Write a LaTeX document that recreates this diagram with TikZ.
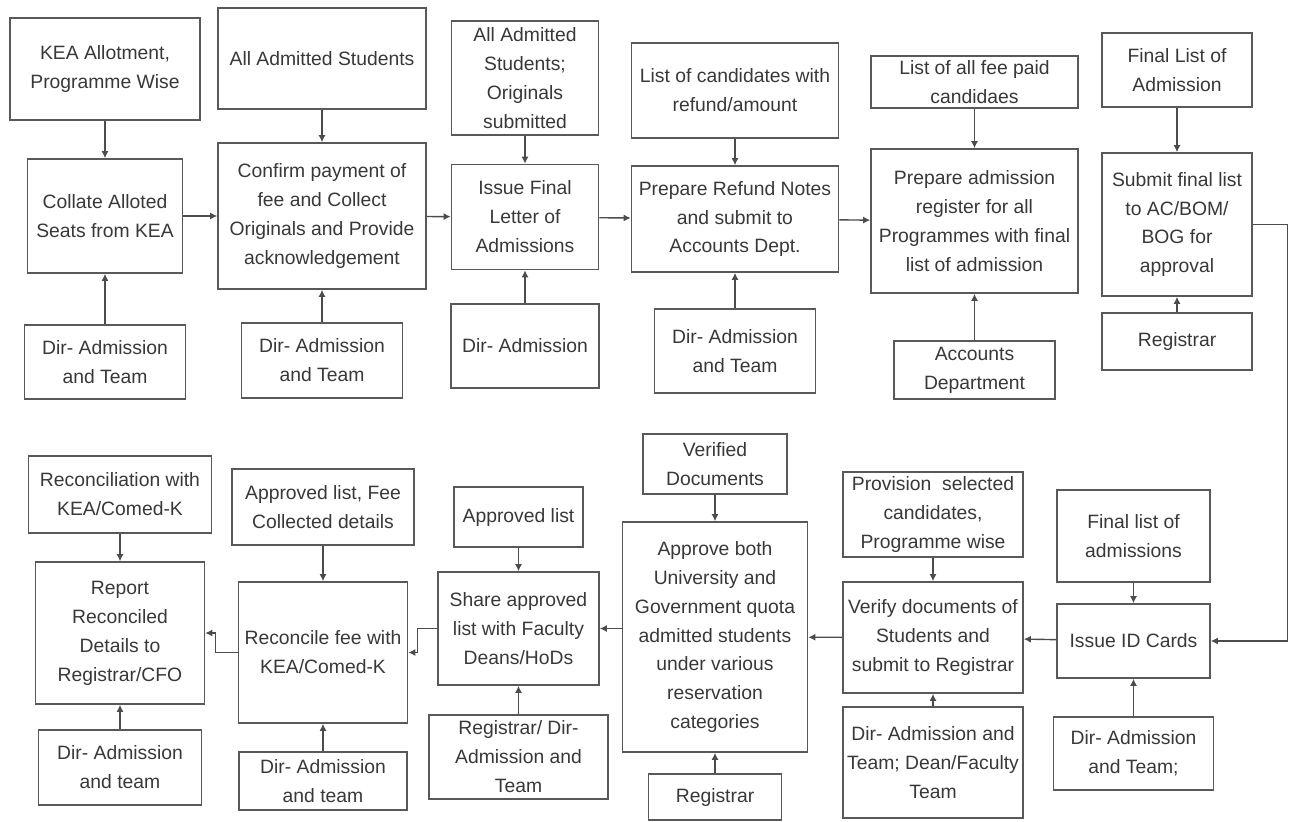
\documentclass[tikz,border=0pt]{standalone}
\usepackage{fontspec}
\setmainfont{Liberation Sans}
\usetikzlibrary{arrows.meta}

\begin{document}
\begin{tikzpicture}[x=0.02cm, y=-0.02cm,
    box/.style={draw=black!65, line width=0.9pt, align=center, inner sep=1pt,
        text=black!78, font=\fontsize{11}{16.5}\selectfont},
    arr/.style={draw=black!70, line width=0.8pt, -{Latex[length=4pt,width=4pt]}}]
    \useasboundingbox (0,0) rectangle (1289,822);

    % Collate seats
    \node[box, minimum width=3.8cm, minimum height=2.04cm] (kea) at (105,69) {KEA Allotment,\\Programme Wise};
    \node[box, minimum width=3.1cm, minimum height=2.28cm] (collate) at (105,216) {Collate Alloted\\Seats from KEA};
    \node[box, minimum width=3.22cm, minimum height=1.48cm] (dirA) at (105,362) {Dir- Admission\\and Team};

    % Confirm payment
    \node[box, minimum width=4.16cm, minimum height=2.02cm] (admAll) at (322,58.5) {All Admitted Students};
    \node[box, minimum width=4.16cm, minimum height=2.92cm] (confirm) at (322,216) {Confirm payment of\\fee and Collect\\Originals and Provide\\acknowledgement};
    \node[box, minimum width=3.22cm, minimum height=1.5cm] (dirB) at (322,360.5) {Dir- Admission\\and Team};

    % Final letter
    \node[box, minimum width=2.94cm, minimum height=2.28cm] (admOrig) at (525,78) {All Admitted\\Students;\\Originals\\submitted};
    \node[box, minimum width=2.94cm, minimum height=2.1cm] (issue) at (525,217) {Issue Final\\Letter of\\Admissions};
    \node[box, minimum width=2.96cm, minimum height=1.68cm] (dirC) at (525,346) {Dir- Admission};

    % Refund notes
    \node[box, minimum width=4.14cm, minimum height=1.9cm] (refList) at (735,90.5) {List of candidates with\\refund/amount};
    \node[box, minimum width=4.14cm, minimum height=2.12cm] (refund) at (735,219) {Prepare Refund Notes\\and submit to\\Accounts Dept.};
    \node[box, minimum width=3.22cm, minimum height=1.68cm] (dirD) at (735,351) {Dir- Admission\\and Team};

    % Admission register
    \node[box, minimum width=4.14cm, minimum height=1.04cm] (feeList) at (974.5,82) {List of all fee paid\\candidaes};
    \node[box, minimum width=4.14cm, minimum height=2.88cm] (register) at (974.5,221) {Prepare admission\\register for all\\Programmes with final\\list of admission};
    \node[box, minimum width=3.22cm, minimum height=1.16cm] (accounts) at (974.5,370) {Accounts\\Department};

    % Approval
    \node[box, minimum width=3cm, minimum height=1.48cm] (finList) at (1177,70) {Final List of\\Admission};
    \node[box, minimum width=3cm, minimum height=2.86cm] (submit) at (1177,224.5) {Submit final list\\to AC/BOM/\\BOG for\\approval};
    \node[box, minimum width=3cm, minimum height=1.14cm] (regA) at (1177,341.5) {Registrar};

    % ID cards
    \node[box, minimum width=3.06cm, minimum height=1.84cm] (finAdm) at (1133.5,536) {Final list of\\admissions};
    \node[box, minimum width=3.06cm, minimum height=1.48cm] (idCards) at (1133.5,641) {Issue ID Cards};
    \node[box, minimum width=3.2cm, minimum height=1.46cm] (dirF) at (1133.5,753.5) {Dir- Admission\\and Team;};

    % Verify documents
    \node[box, minimum width=3.6cm, minimum height=1.7cm] (prov) at (933,514.5) {Provision\ \ selected\\candidates,\\Programme wise};
    \node[box, minimum width=3.6cm, minimum height=2.22cm] (verify) at (933,637.5) {Verify documents of\\Students and\\submit to Registrar};
    \node[box, minimum width=3.6cm, minimum height=2.22cm] (dirE) at (933,762.5) {Dir- Admission and\\Team; Dean/Faculty\\Team};

    % Approve quota
    \node[box, minimum width=2.88cm, minimum height=1.2cm] (verified) at (715,464) {Verified\\Documents};
    \node[box, minimum width=3.7cm, minimum height=4.6cm] (approve) at (715,637) {Approve both\\University and\\Government quota\\admitted students\\under various\\reservation\\categories};
    \node[box, minimum width=2.66cm, minimum height=0.92cm] (regB) at (715,797) {Registrar};

    % Share list
    \node[box, minimum width=2.58cm, minimum height=1.2cm] (apprList) at (518.5,517) {Approved list};
    \node[box, minimum width=3.22cm, minimum height=2.26cm] (share) at (518.5,628.5) {Share approved\\list with Faculty\\Deans/HoDs};
    \node[box, minimum width=3.58cm, minimum height=1.68cm] (dirG) at (518.5,757) {Registrar/ Dir-\\Admission and\\Team};

    % Reconcile fee
    \node[box, minimum width=3.64cm, minimum height=1.52cm] (recList) at (323,507) {Approved list, Fee\\Collected details};
    \node[box, minimum width=3.38cm, minimum height=2.82cm] (reconcile) at (323,652.5) {Reconcile fee with\\KEA/Comed-K};
    \node[box, minimum width=3.36cm, minimum height=1.16cm] (dirH) at (323,781) {Dir- Admission\\and team};

    % Report
    \node[box, minimum width=3.66cm, minimum height=1.54cm] (kcomed) at (120,494.5) {Reconciliation with\\KEA/Comed-K};
    \node[box, minimum width=3.38cm, minimum height=2.84cm] (report) at (120,633) {Report\\Reconciled\\Details to\\Registrar/CFO};
    \node[box, minimum width=3.26cm, minimum height=1.5cm] (dirI) at (120,767.5) {Dir- Admission\\and team};

    % Inputs and owners
    \foreach \a/\b in {kea/collate, dirA/collate, admAll/confirm, dirB/confirm,
        admOrig/issue, dirC/issue, refList/refund, dirD/refund,
        feeList/register, accounts/register, finList/submit, regA/submit,
        finAdm/idCards, dirF/idCards, prov/verify, dirE/verify,
        verified/approve, regB/approve, apprList/share, dirG/share,
        recList/reconcile, dirH/reconcile, kcomed/report, dirI/report}
        \draw[arr] (\a) -- (\b);

    % Workflow
    \draw[arr] (collate) -- (confirm);
    \draw[arr] (confirm) -- (issue);
    \draw[arr] (issue) -- (refund);
    \draw[arr] (refund) -- (register);
    \draw[arr] (submit.east) -- ++(35,0) |- (idCards.east);
    \draw[arr] (idCards) -- (verify);
    \draw[arr] (verify) -- (approve);
    \draw[arr] (approve.west |- share.east) -- (share.east);
    \draw[arr] (share.west) -- ++(-20,0) |- (reconcile.east);
    \draw[arr] (reconcile.west) -- ++(-22,0) |- (report.east);
\end{tikzpicture}
\end{document}
